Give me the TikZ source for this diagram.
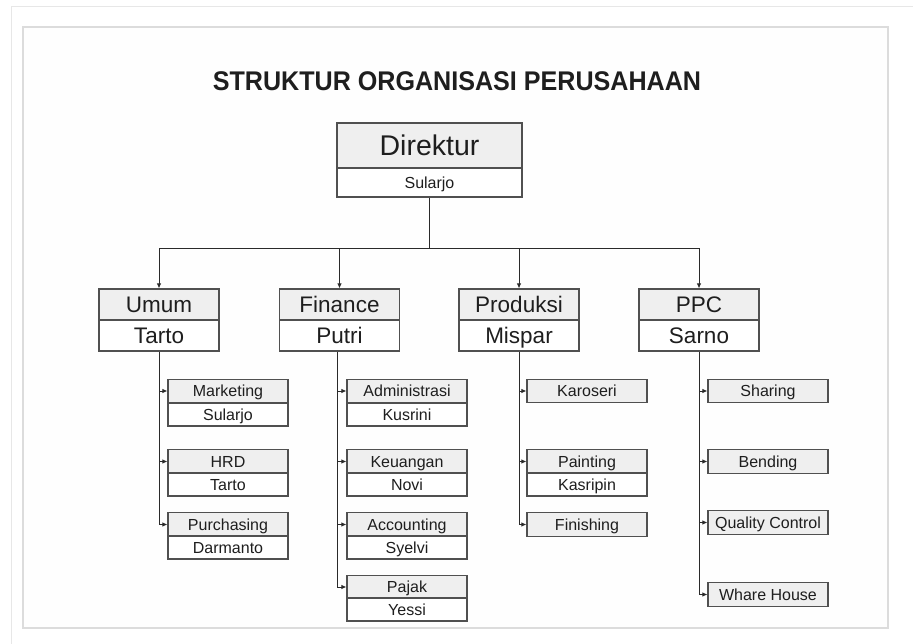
\documentclass[tikz,border=0pt]{standalone}
\usepackage{fontspec}
\setmainfont{Liberation Sans}
\newfontfamily\titlefont[FakeStretch=0.93]{Liberation Sans}
\usetikzlibrary{arrows.meta}
\definecolor{hdrgray}{HTML}{EFEFEF}
\definecolor{boxline}{HTML}{505050}
\definecolor{framegray}{HTML}{DCDCDC}
\definecolor{txt}{HTML}{1E1E1E}
\definecolor{linecol}{HTML}{2A2A2A}
\begin{document}
\begin{tikzpicture}[x=1pt,y=-1pt,
  boxbase/.style={draw=boxline,line width=1.1pt,text=txt,inner sep=0pt,anchor=center,text depth=0pt},
  dirhdr/.style={boxbase,fill=hdrgray,minimum width=185pt,minimum height=45pt,font=\fontsize{28.5}{32}\selectfont,text height=20.4pt},
  dirbdy/.style={boxbase,fill=white,minimum width=185pt,minimum height=29pt,font=\fontsize{16}{19}\selectfont,text height=11.5pt},
  lvhdr/.style={boxbase,fill=hdrgray,minimum width=120pt,minimum height=31pt,font=\fontsize{22.5}{26}\selectfont,text height=16.1pt},
  lvbdy/.style={boxbase,fill=white,minimum width=120pt,minimum height=31pt,font=\fontsize{22.5}{26}\selectfont,text height=16.1pt},
  subhdr/.style={boxbase,fill=hdrgray,minimum width=120pt,minimum height=23.5pt,font=\fontsize{16}{19}\selectfont,text height=11.5pt},
  subbdy/.style={boxbase,fill=white,minimum width=120pt,minimum height=23pt,font=\fontsize{16}{19}\selectfont,text height=11.5pt},
  conn/.style={draw=linecol,line width=0.9pt},
  arr/.style={conn,-{Latex[length=5pt,width=4.5pt]}}
]
\useasboundingbox (0,0) rectangle (913,644);
\fill[white] (0,0) rectangle (913,644);
\draw[framegray!70,line width=1pt] (11,644) -- (11,7) -- (913,7);
\draw[framegray,line width=1.2pt,fill=white!99.5!black] (23,27) rectangle (888,628);

\node[font=\titlefont\bfseries\fontsize{27}{32}\selectfont,text=txt] (title) at (457,81) {STRUKTUR ORGANISASI PERUSAHAAN};

% Direktur
\node[dirhdr] (dirH) at (429.5,145.5) {Direktur};
\node[dirbdy] (dirB) at (429.5,182.5) {Sularjo};

% Level 2
\node[lvhdr] (umH) at (159,304.5) {Umum};
\node[lvbdy] (umB) at (159,335.5) {Tarto};
\node[lvhdr] (fiH) at (339.5,304.5) {Finance};
\node[lvbdy] (fiB) at (339.5,335.5) {Putri};
\node[lvhdr] (prH) at (519,304.5) {Produksi};
\node[lvbdy] (prB) at (519,335.5) {Mispar};
\node[lvhdr] (ppH) at (699,304.5) {PPC};
\node[lvbdy] (ppB) at (699,335.5) {Sarno};

% bus
\coordinate (bus) at (429.5,248);
\draw[conn] (dirB.south) -- (bus);
\draw[arr] (bus) -| (umH.north);
\draw[arr] (bus) -| (fiH.north);
\draw[arr] (bus) -| (prH.north);
\draw[arr] (bus) -| (ppH.north);

% Umum column
\node[subhdr] (mkH) at (228,391) {Marketing};
\node[subbdy] (mkB) at (228,414.5) {Sularjo};
\node[subhdr] (hrH) at (228,461.5) {HRD};
\node[subbdy] (hrB) at (228,484.5) {Tarto};
\node[subhdr] (puH) at (228,524.5) {Purchasing};
\node[subbdy] (puB) at (228,547.5) {Darmanto};

% Finance column
\node[subhdr] (adH) at (407,391) {Administrasi};
\node[subbdy] (adB) at (407,414.5) {Kusrini};
\node[subhdr] (keH) at (407,461.5) {Keuangan};
\node[subbdy] (keB) at (407,484.5) {Novi};
\node[subhdr] (acH) at (407,524.5) {Accounting};
\node[subbdy] (acB) at (407,547.5) {Syelvi};
\node[subhdr] (paH) at (407,587) {Pajak};
\node[subbdy] (paB) at (407,609.5) {Yessi};

% Produksi column
\node[subhdr] (kaH) at (587,391) {Karoseri};
\node[subhdr] (pnH) at (587,461.5) {Painting};
\node[subbdy] (pnB) at (587,484.5) {Kasripin};
\node[subhdr] (fnH) at (587,524.5) {Finishing};

% PPC column
\node[subhdr] (shH) at (768,391) {Sharing};
\node[subhdr] (bnH) at (768,461.5) {Bending};
\node[subhdr] (qcH) at (768,522.5) {Quality Control};
\node[subhdr] (whH) at (768,594.5) {Whare House};

% trunks and branch arrows
\draw[arr] (umB.south) |- (puH.west);
\draw[arr] (umB.south |- mkH.west) -- (mkH.west);
\draw[arr] (umB.south |- hrH.west) -- (hrH.west);

\coordinate (fiT) at ([xshift=-2pt]fiB.south);
\draw[arr] (fiT) |- (paH.west);
\draw[arr] (fiT |- adH.west) -- (adH.west);
\draw[arr] (fiT |- keH.west) -- (keH.west);
\draw[arr] (fiT |- acH.west) -- (acH.west);

\draw[arr] (prB.south) |- (fnH.west);
\draw[arr] (prB.south |- kaH.west) -- (kaH.west);
\draw[arr] (prB.south |- pnH.west) -- (pnH.west);

\draw[arr] (ppB.south) |- (whH.west);
\draw[arr] (ppB.south |- shH.west) -- (shH.west);
\draw[arr] (ppB.south |- bnH.west) -- (bnH.west);
\draw[arr] (ppB.south |- qcH.west) -- (qcH.west);
\end{tikzpicture}
\end{document}
